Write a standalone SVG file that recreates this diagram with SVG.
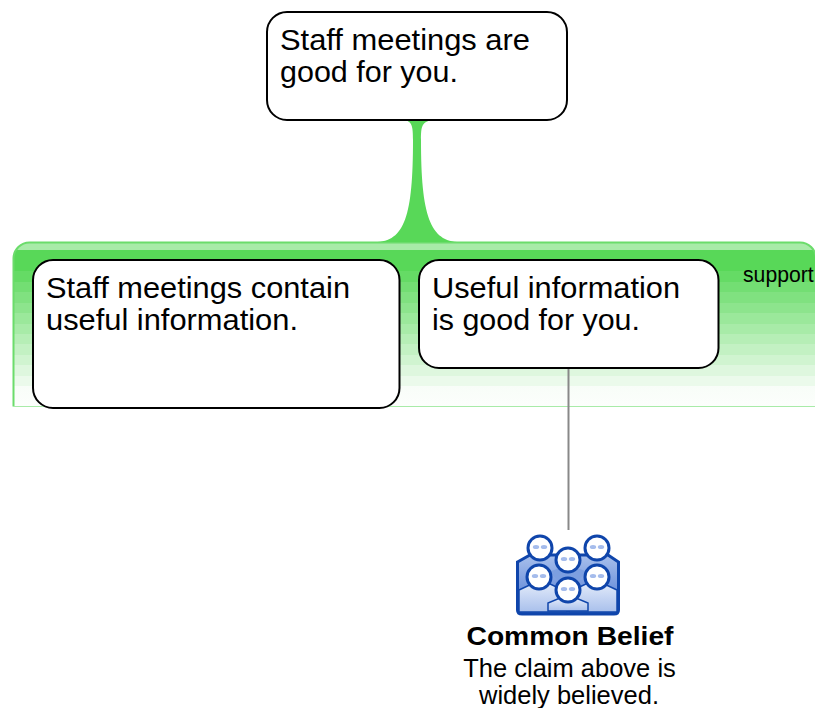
<svg xmlns="http://www.w3.org/2000/svg" width="815" height="708" viewBox="0 0 815 708">
<defs>
<linearGradient id="panel" gradientUnits="userSpaceOnUse" x1="0" y1="242" x2="0" y2="407">
<stop offset="0.05" stop-color="#a8eba8"/><stop offset="0.05" stop-color="#58d858"/>
<stop offset="0.176" stop-color="#58d858"/><stop offset="0.176" stop-color="#65db65"/>
<stop offset="0.24" stop-color="#65db65"/><stop offset="0.24" stop-color="#73de73"/>
<stop offset="0.303" stop-color="#73de73"/><stop offset="0.303" stop-color="#80e180"/>
<stop offset="0.367" stop-color="#80e180"/><stop offset="0.367" stop-color="#8de48d"/>
<stop offset="0.43" stop-color="#8de48d"/><stop offset="0.43" stop-color="#9be89b"/>
<stop offset="0.494" stop-color="#9be89b"/><stop offset="0.494" stop-color="#a8eba8"/>
<stop offset="0.558" stop-color="#a8eba8"/><stop offset="0.558" stop-color="#b6eeb6"/>
<stop offset="0.621" stop-color="#b6eeb6"/><stop offset="0.621" stop-color="#c3f1c3"/>
<stop offset="0.685" stop-color="#c3f1c3"/><stop offset="0.685" stop-color="#d0f4d0"/>
<stop offset="0.745" stop-color="#d0f4d0"/><stop offset="0.745" stop-color="#def7de"/>
<stop offset="0.81" stop-color="#def7de"/><stop offset="0.81" stop-color="#ebfaeb"/>
<stop offset="0.873" stop-color="#ebfaeb"/><stop offset="0.873" stop-color="#f8fdf8"/>
<stop offset="1" stop-color="#fcfefc"/>
</linearGradient>
<linearGradient id="body" x1="0" y1="0" x2="0" y2="1">
<stop offset="0" stop-color="#e4ecfa"/><stop offset="1" stop-color="#a9c0ec"/>
</linearGradient>
<linearGradient id="back" x1="0" y1="0" x2="0" y2="1">
<stop offset="0" stop-color="#a9c0ec"/><stop offset="0.6" stop-color="#6f93dc"/><stop offset="1" stop-color="#2f62c4"/>
</linearGradient>
<g id="head">
<circle r="12" fill="#fff" stroke="#0f45ab" stroke-width="3"/>
<ellipse cx="-4" cy="-1" rx="3.200" ry="2" fill="#a5bcec"/>
<ellipse cx="4" cy="-1" rx="3.200" ry="2" fill="#a5bcec"/>
</g>
</defs>
<style>
.node{fill:#fff;stroke:#000;stroke-width:2}
.t{font-family:"Liberation Sans",Arial,sans-serif;font-size:29.500px;fill:#000}
.c{font-family:"Liberation Sans",Arial,sans-serif;fill:#000;text-anchor:middle}
</style>
<g id="support-panel">
<path d="M13.500 407V258A16 16 0 0 1 29.500 242.500H800A16 16 0 0 1 816 258V407Z" fill="url(#panel)"/>
<path d="M13.500 406.500V258A16 16 0 0 1 29.500 242.500H800A16 16 0 0 1 816 258" fill="none" stroke="#6bdc6b" stroke-width="2"/>
<line x1="13" y1="406.500" x2="815" y2="406.500" stroke="#a8eba8" stroke-width="1.200"/>
<text x="743" y="282" font-family="'Liberation Sans',Arial,sans-serif" font-size="21.200" fill="#000">support</text>
</g>
<g id="connectors">
<path d="M405 120C412 122 413 126 413 140C413 215 405 242 375 242L460 242C430 242 421 215 421 140C421 126 422 122 432 120Z" fill="#58d858"/>
<line x1="568.500" y1="368" x2="568.500" y2="530" stroke="#888" stroke-width="2"/>
</g>
<g id="claim">
<rect class="node" x="267" y="12" width="300" height="108" rx="20"/>
<text class="t" x="280" y="49.500" textLength="250" lengthAdjust="spacingAndGlyphs">Staff meetings are</text>
<text class="t" x="280" y="81.500" textLength="178" lengthAdjust="spacingAndGlyphs">good for you.</text>
</g>
<g id="premise1">
<rect class="node" x="33" y="260" width="366.500" height="148" rx="20"/>
<text class="t" x="46" y="297.500" textLength="304" lengthAdjust="spacingAndGlyphs">Staff meetings contain</text>
<text class="t" x="46" y="329.500" textLength="252" lengthAdjust="spacingAndGlyphs">useful information.</text>
</g>
<g id="premise2">
<rect class="node" x="419" y="260" width="299.500" height="108" rx="20"/>
<text class="t" x="432" y="297.500" textLength="248" lengthAdjust="spacingAndGlyphs">Useful information</text>
<text class="t" x="432" y="329.500" textLength="208" lengthAdjust="spacingAndGlyphs">is good for you.</text>
</g>
<g id="common-belief">
<path d="M517.500 562L530 555H608L618.500 562V610Q618.500 614 614 614H522Q517.500 614 517.500 610Z" fill="url(#back)" stroke="#0f45ab" stroke-width="3"/>
<path d="M519 590L536 582H546L567 592V612H519Z" fill="url(#body)" stroke="#0f45ab" stroke-width="1.500"/>
<path d="M617 590L600 582H590L569 592V612H617Z" fill="url(#body)" stroke="#0f45ab" stroke-width="1.500"/>
<path d="M548 611V603L560 598H576L588 603V611Z" fill="url(#body)" stroke="#0f45ab" stroke-width="1.500"/>
<use href="#head" x="540" y="548"/>
<use href="#head" x="597" y="548"/>
<path d="M549 572L562 567H574L588 572L578 580H558Z" fill="#7d9fe0"/>
<use href="#head" x="568" y="560"/>
<use href="#head" x="539" y="577"/>
<use href="#head" x="597" y="577"/>
<use href="#head" x="568" y="590"/>
<text class="c" x="570" y="645" font-size="25" font-weight="bold" textLength="207" lengthAdjust="spacingAndGlyphs">Common Belief</text>
<text class="c" x="569.500" y="677" font-size="25.500">The claim above is</text>
<text class="c" x="569" y="704" font-size="25.500">widely believed.</text>
</g>
</svg>
